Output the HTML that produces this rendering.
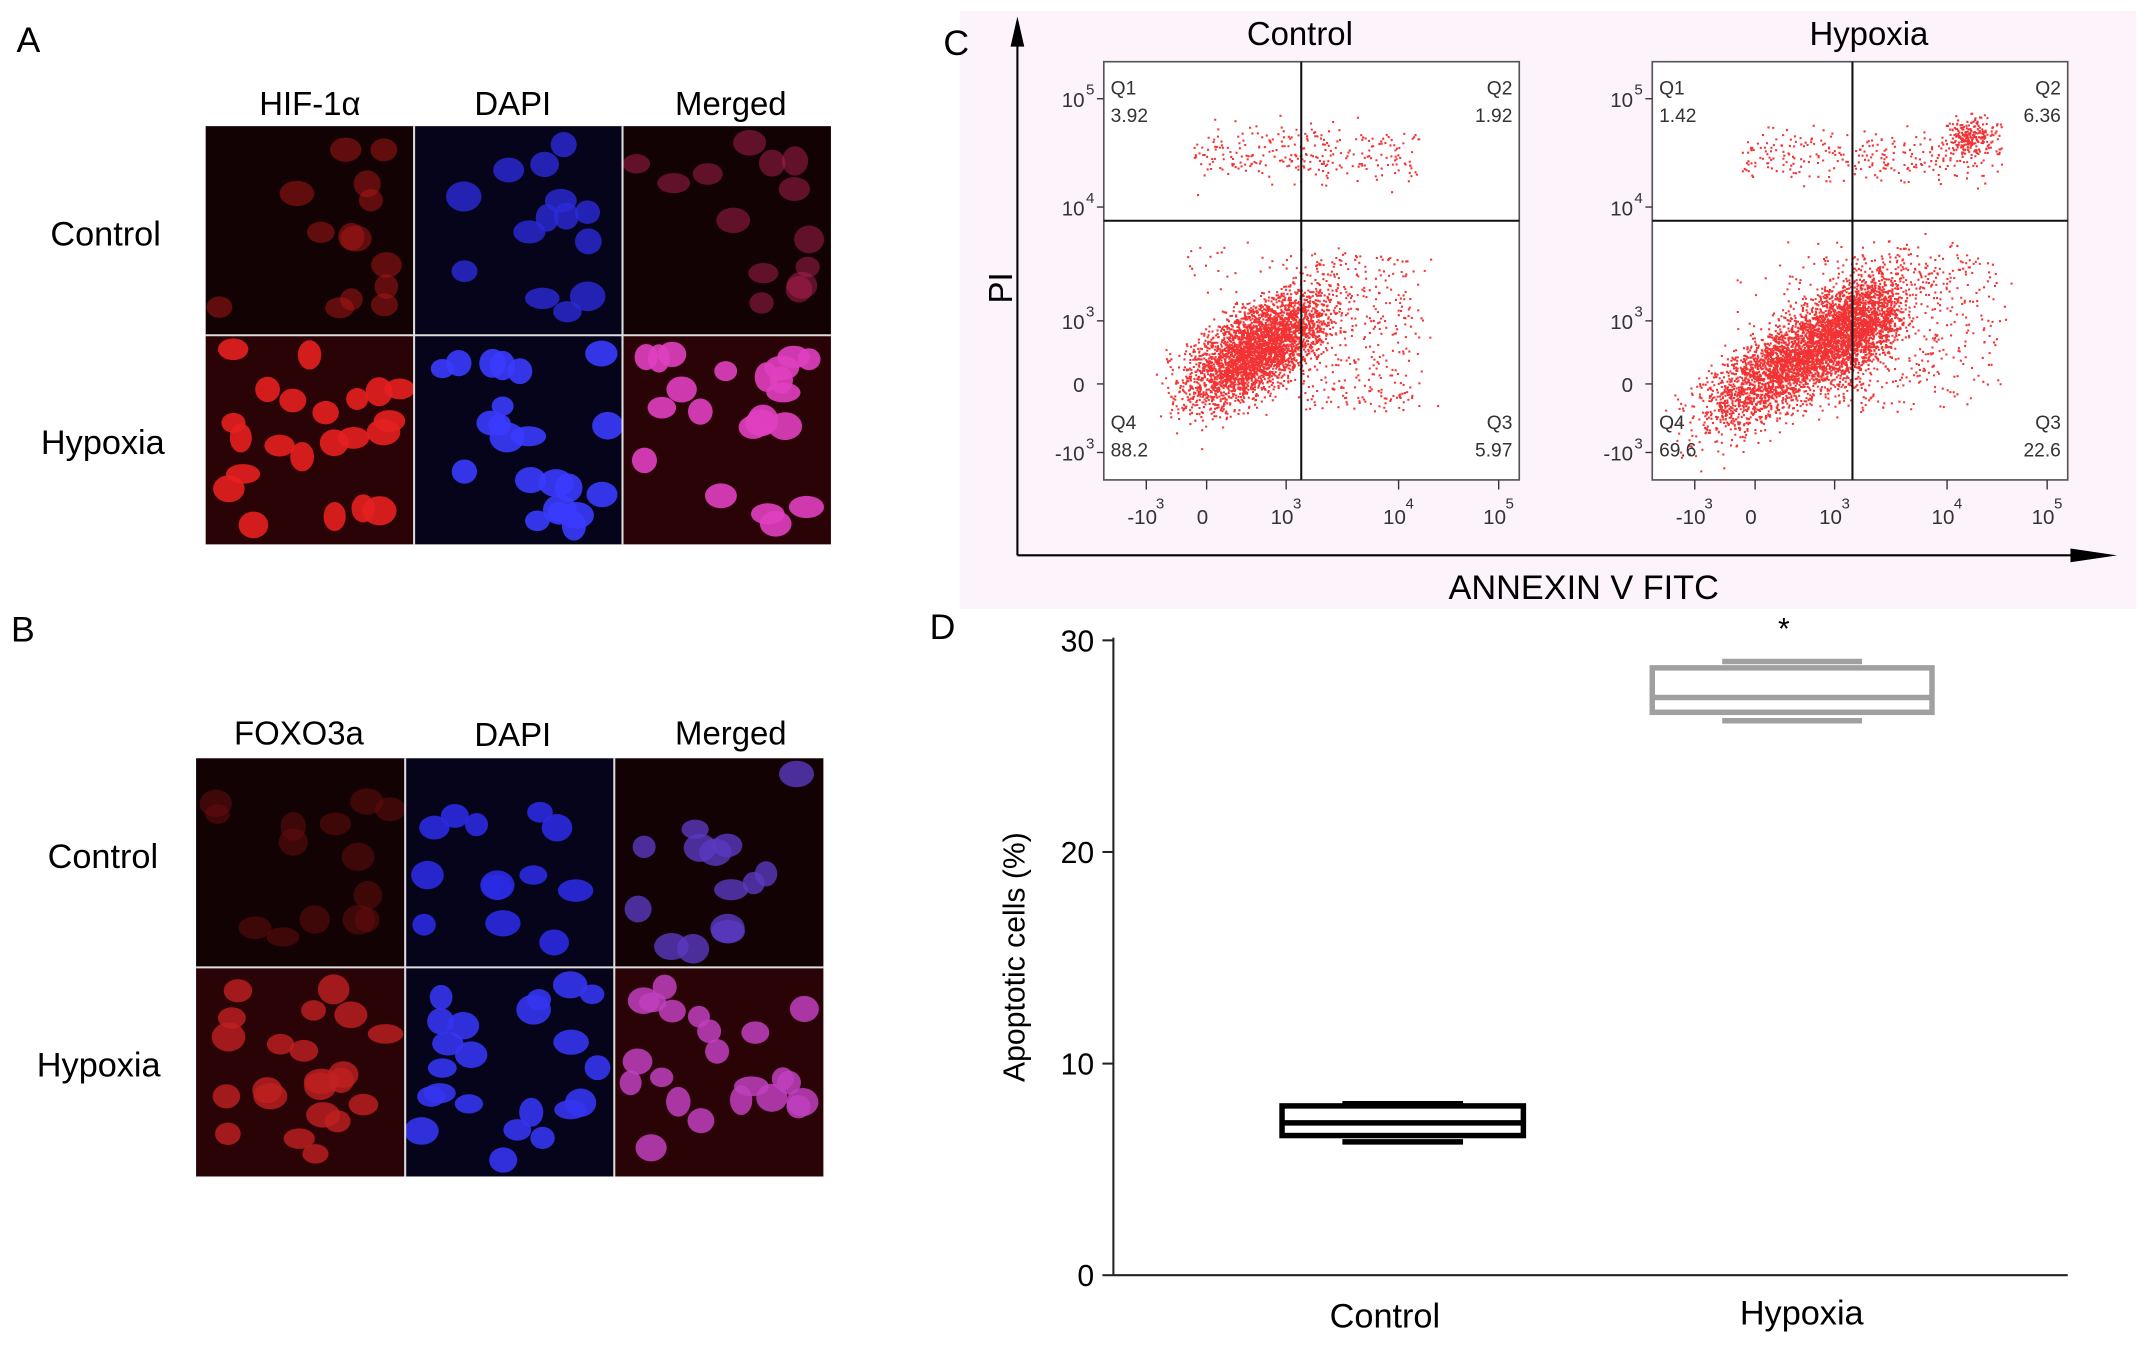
<!DOCTYPE html>
<html><head><meta charset="utf-8"><style>
html,body{margin:0;padding:0;background:#fff}
svg{display:block;font-family:"Liberation Sans",Arial,sans-serif}
</style></head><body>
<svg id="fig" width="2150" height="1352" viewBox="0 0 1568 986" preserveAspectRatio="none" xmlns="http://www.w3.org/2000/svg">
<rect width="1568" height="986" fill="#fff"/>
<g>
<text x="12" y="38" font-size="26">A</text>
<text x="226" y="84" font-size="24" text-anchor="middle">HIF-1α</text>
<text x="374" y="84" font-size="24" text-anchor="middle">DAPI</text>
<text x="533" y="84" font-size="24" text-anchor="middle">Merged</text>
<text x="77" y="179" font-size="25" text-anchor="middle">Control</text>
<text x="75" y="331" font-size="25" text-anchor="middle">Hypoxia</text>
<g id="gridA"></g>
</g>
<g>
<text x="8" y="468" font-size="26">B</text>
<text x="218" y="543" font-size="24" text-anchor="middle">FOXO3a</text>
<text x="374" y="544" font-size="24" text-anchor="middle">DAPI</text>
<text x="533" y="543" font-size="24" text-anchor="middle">Merged</text>
<text x="75" y="633" font-size="25" text-anchor="middle">Control</text>
<text x="72" y="785" font-size="25" text-anchor="middle">Hypoxia</text>
<g id="gridB"></g>
</g>
<g>
<rect x="700" y="8" width="858" height="436" fill="#fdf3fb"/>
<text x="688" y="40" font-size="26">C</text>
<line x1="742" y1="405" x2="742" y2="22" stroke="#000" stroke-width="1.5"/>
<path d="M742,12 L737,34 L747,34 Z" fill="#000"/>
<line x1="742" y1="405" x2="1530" y2="405" stroke="#000" stroke-width="1.5"/>
<path d="M1544,405 L1510,400 L1510,410 Z" fill="#000"/>
<text transform="translate(738,210) rotate(-90)" font-size="24" text-anchor="middle">PI</text>
<text x="1155" y="437" font-size="25" text-anchor="middle">ANNEXIN V FITC</text>
<g id="flow"></g>
</g>
<g id="panelD">
<text x="678" y="466" font-size="26">D</text>
<text transform="translate(747,698) rotate(-90)" font-size="22" text-anchor="middle">Apoptotic  cells (%)</text>
</g>
</svg>
<script>
const NS="http://www.w3.org/2000/svg";
function mk(tag,attrs,parent){const e=document.createElementNS(NS,tag);for(const k in attrs)e.setAttribute(k,attrs[k]);parent.appendChild(e);return e;}
let seed=7;function rnd(){seed=(seed*16807)%2147483647;return seed/2147483647;}
function gauss(){return (rnd()+rnd()+rnd()+rnd()-2)/0.58;}

function micro(g,x0,y0,w,h,colors,intens){
  for(let ci=0;ci<3;ci++){
    for(let ri=0;ri<2;ri++){
      const x=x0+ci*w,y=y0+ri*h;
      const bg=ci===1?"#05041a":(ri===1?"#2a0306":"#120204");
      const r=mk('rect',{x:x,y:y,width:w,height:h,fill:bg},g);
      
      
      const n=ri===1?22:14;
      for(let i=0;i<n;i++){
        const cx=x+10+rnd()*(w-20),cy=y+10+rnd()*(h-20);
        mk('ellipse',{cx:cx,cy:cy,rx:8+rnd()*5,ry:7+rnd()*4,fill:colors[ci][ri],opacity:intens[ci][ri]},g);
      }
    }
  }
  mk('line',{x1:x0,y1:y0+h,x2:x0+3*w,y2:y0+h,stroke:"#ddd","stroke-width":1.5},g);
  for(let i=1;i<3;i++)mk('line',{x1:x0+i*w,y1:y0,x2:x0+i*w,y2:y0+2*h,stroke:"#ddd","stroke-width":1.5},g);
}
micro(document.getElementById('gridA'),150,92,152,152.5,
 [["#b01515","#e52020"],["#2a2ad8","#3b3bff"],["#b02050","#e040c0"]],
 [[0.5,0.9],[0.8,0.9],[0.5,0.9]]);
micro(document.getElementById('gridB'),143,553,152.5,152.5,
 [["#6a0c0c","#c02020"],["#2a2ae0","#3535f0"],["#5a3ac0","#c040c0"]],
 [[0.5,0.8],[0.9,0.9],[0.8,0.85]]);

const flowTitles=["Control","Hypoxia"];
const q1Vals=["3.92","1.42"],q2Vals=["1.92","6.36"],q3Vals=["5.97","22.6"],q4Vals=["88.2","69.6"];
const yTickLabels=[["10","5"],["10","4"],["10","3"],["0",""],["-10","3"]];
const xTickLabels=[["-10","3"],["0",""],["10","3"],["10","4"],["10","5"]];
const flow=document.getElementById('flow');
[[805,949],[1205,1351]].forEach((p,k)=>{
  const bx=p[0],qx=p[1],by=45,bw=303,bh=305,qy=161;
  const g=mk('g',{},flow);
  
  
  mk('rect',{x:bx,y:by,width:bw,height:bh,fill:"#fff",stroke:"#555","stroke-width":1.2},g);
  const t=mk('text',{x:bx+143+k*15,y:33,"font-size":24,"text-anchor":"middle"},g);t.textContent=flowTitles[k];
  const pts=[];
  const cx=k?bx+110:bx+112, cy=k?257:254, sp=k?34:24;
  for(let i=0;i<3500;i++){const u=gauss(),v=gauss();pts.push([cx+u*sp+v*8, cy-u*sp*0.7+v*11]);}
  if(k)for(let i=0;i<1200;i++){const u=gauss(),v=gauss();pts.push([bx+150+u*14+v*6,240-u*12+v*14]);}
  const sparseN=k?450:320;
  for(let i=0;i<sparseN;i++){pts.push([bx+(k?110:140)+rnd()*(k?140:90)+gauss()*8, 185+rnd()*115]);}
  for(let i=0;i<(k?120:90);i++){pts.push([bx+60+rnd()*170,by+130+rnd()*110]);}
  for(let i=0;i<(k?300:280);i++){pts.push([bx+65+rnd()*(k?190:165),by+68+gauss()*10]);}
  if(k)for(let i=0;i<220;i++)pts.push([bx+232+gauss()*9,by+53+gauss()*7]);
  let d="";pts.forEach(q=>{if(q[0]>bx+2&&q[0]<bx+bw-2&&q[1]>by+2&&q[1]<by+bh-2)d+="M"+q[0].toFixed(1)+","+q[1].toFixed(1)+"h1.5v1.5h-1.5z";});
  mk('path',{d:d,fill:"#f00000",opacity:0.8},g);
  mk('line',{x1:qx,y1:by,x2:qx,y2:by+bh,stroke:"#111","stroke-width":1.5},g);
  mk('line',{x1:bx,y1:qy,x2:bx+bw,y2:qy,stroke:"#111","stroke-width":1.5},g);
  const lab=(s,x,y,a)=>{const e=mk('text',{x:x,y:y,"font-size":14,fill:"#333","text-anchor":a},g);e.textContent=s;};
  lab("Q1",bx+5,by+24,"start");lab(q1Vals[k],bx+5,by+44,"start");
  lab("Q2",bx+bw-5,by+24,"end");lab(q2Vals[k],bx+bw-5,by+44,"end");
  lab("Q4",bx+5,by+268,"start");lab(q4Vals[k],bx+5,by+288,"start");
  lab("Q3",bx+bw-5,by+268,"end");lab(q3Vals[k],bx+bw-5,by+288,"end");
  const tys=[78,157,240,286,336];
  yTickLabels.forEach((tl,i)=>{
    const e=mk('text',{x:bx-14,y:tys[i],"font-size":15,fill:"#333","text-anchor":"end"},g);e.textContent=tl[0];
    if(tl[1]){const s=mk('text',{x:bx-13,y:tys[i]-9,"font-size":11,fill:"#333"},g);s.textContent=tl[1];}
    mk('line',{x1:bx-5,y1:tys[i]-6,x2:bx,y2:tys[i]-6,stroke:"#333"},g);
  });
  const txs=[28,72,130,212,285];
  xTickLabels.forEach((tl,i)=>{
    const e=mk('text',{x:bx+txs[i],y:382,"font-size":15,fill:"#333","text-anchor":"middle"},g);e.textContent=tl[0];
    if(tl[1]){const s=mk('text',{x:bx+txs[i]+(tl[0].length>2?10:8),y:371,"font-size":11,fill:"#333"},g);s.textContent=tl[1];}
    mk('line',{x1:bx+txs[i]+3,y1:by+bh,x2:bx+txs[i]+3,y2:by+bh+7,stroke:"#333"},g);
  });
});

const groups=["Control","Hypoxia"];
const mins=[6.3,26.2],q1s=[6.6,26.6],medians=[7.2,27.3],q3s=[8.0,28.7],maxs=[8.1,29.0];
const yTicks=[0,10,20,30];
const D=document.getElementById('panelD');
const X0=812,X1=1508,Y0=930,Y30=467;
const ys=v=>Y0-(v/30)*(Y0-Y30);
const centers=[1023,1307],halfW=[88,102];
const labelX=[1010,1314];
const axis=mk('g',{},D);


mk('line',{x1:X0,y1:Y30-2,x2:X0,y2:Y0,stroke:"#222","stroke-width":1.5},axis);
mk('line',{x1:X0,y1:Y0,x2:X1,y2:Y0,stroke:"#222","stroke-width":1.5},axis);
yTicks.forEach(v=>{
  mk('line',{x1:X0-8,y1:ys(v),x2:X0,y2:ys(v),stroke:"#222","stroke-width":1.5},axis);
  const t=mk('text',{x:X0-14,y:ys(v)+8,"font-size":22,"text-anchor":"end"},axis);t.textContent=v;
  
  
});
groups.forEach((gname,i)=>{
  const c=centers[i],hw=halfW[i],col=i?"#a0a0a0":"#000";
  const g=mk('g',{},D);
  
  
  mk('rect',{x:c-hw,y:ys(q3s[i]),width:2*hw,height:ys(q1s[i])-ys(q3s[i]),fill:"none",stroke:col,"stroke-width":4},g);
  mk('line',{x1:c-hw,y1:ys(medians[i]),x2:c+hw,y2:ys(medians[i]),stroke:col,"stroke-width":4},g);
  mk('line',{x1:c-hw*0.5,y1:ys(maxs[i]),x2:c+hw*0.5,y2:ys(maxs[i]),stroke:col,"stroke-width":4},g);
  mk('line',{x1:c-hw*0.5,y1:ys(mins[i]),x2:c+hw*0.5,y2:ys(mins[i]),stroke:col,"stroke-width":4},g);
  const t=mk('text',{x:labelX[i],y:i?966:968,"font-size":25,"text-anchor":"middle"},D);t.textContent=gname;
  
  
});
const star=mk('text',{x:1301,y:466,"font-size":22,"text-anchor":"middle"},D);star.textContent="*";


</script>
</body></html>
